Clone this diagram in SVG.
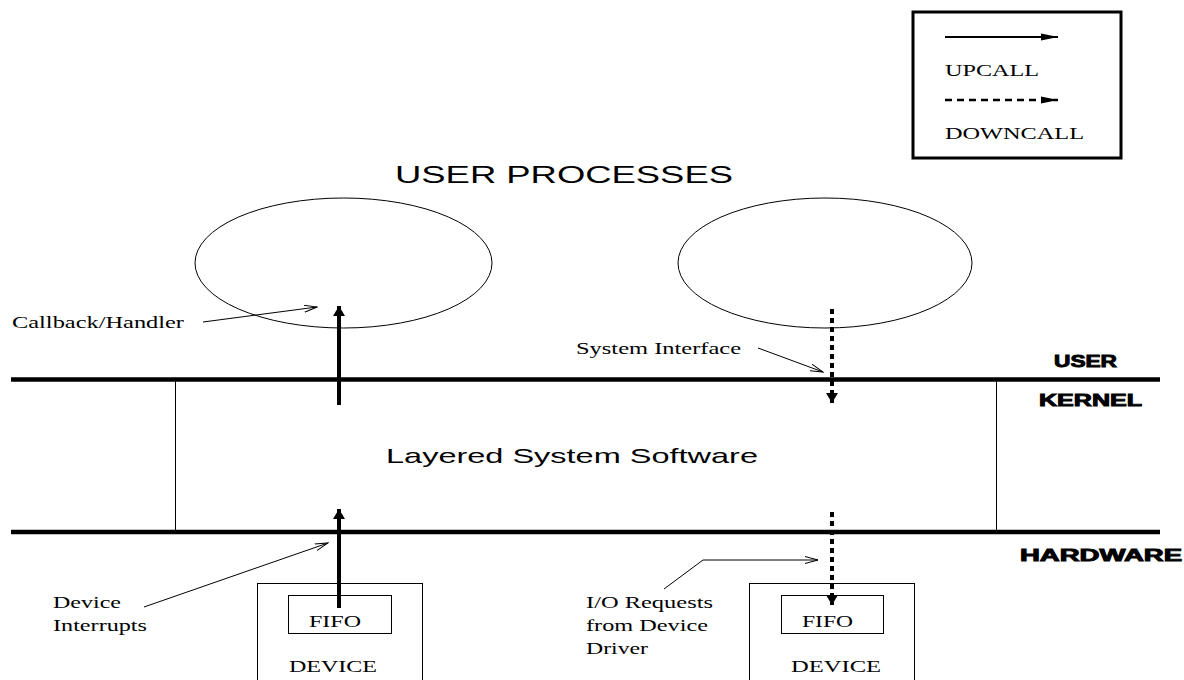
<svg xmlns="http://www.w3.org/2000/svg" width="1184" height="680" viewBox="0 0 1184 680">
  <defs>
    <marker id="head" markerUnits="userSpaceOnUse" markerWidth="12" markerHeight="12" refX="10" refY="6" orient="auto">
      <path d="M0,0 L10,6 L0,12 z" fill="#000"/>
    </marker>
    <marker id="open" markerUnits="userSpaceOnUse" markerWidth="14" markerHeight="8" refX="13" refY="4" orient="auto">
      <path d="M0,0.5 L13,4 L0,7.5" fill="none" stroke="#000" stroke-width="1"/>
    </marker>
    <marker id="legendHead" markerUnits="userSpaceOnUse" markerWidth="18" markerHeight="8" refX="17" refY="4" orient="auto">
      <path d="M0,0.5 L17,4 L0,7.5 z" fill="#000"/>
    </marker>
  </defs>
  <style>
    .serif { font-family: "Liberation Serif", "Times New Roman", serif; font-size: 17px; fill: #000; }
    .small { font-size: 16px; }
    .sans { font-family: "Liberation Sans", Arial, sans-serif; fill: #000; }
    .layer { font-family: "Liberation Sans", Arial, sans-serif; font-weight: 900; font-size: 16px; fill: #000; stroke: #000; stroke-width: 0.9; }
    .thin { fill: none; stroke: #000; stroke-width: 1; }
    .bar { stroke: #000; stroke-width: 4.5; }
    .up { stroke: #000; stroke-width: 4; fill: none; marker-end: url(#head); }
    .down { stroke: #000; stroke-width: 4; stroke-dasharray: 5 4; fill: none; marker-end: url(#head); }
    .pointer { fill: none; stroke: #000; stroke-width: 1; marker-end: url(#open); }
  </style>

  <rect width="1184" height="680" fill="#fff"/>

  <!-- legend -->
  <g id="legend">
    <rect x="913" y="12" width="208" height="146" fill="none" stroke="#000" stroke-width="3"/>
    <line x1="945" y1="37" x2="1058" y2="37" stroke="#000" stroke-width="2" marker-end="url(#legendHead)"/>
    <text class="serif small" x="945" y="76" textLength="94" lengthAdjust="spacingAndGlyphs">UPCALL</text>
    <line x1="945" y1="100" x2="1058" y2="100" stroke="#000" stroke-width="2.5" stroke-dasharray="7 5" marker-end="url(#legendHead)"/>
    <text class="serif small" x="945" y="139" textLength="139" lengthAdjust="spacingAndGlyphs">DOWNCALL</text>
  </g>

  <text id="title" class="sans" x="395" y="183" font-size="24" textLength="338" lengthAdjust="spacingAndGlyphs">USER PROCESSES</text>

  <!-- user processes -->
  <g id="process-left">
    <ellipse class="thin" cx="343.5" cy="263" rx="148.5" ry="65"/>
  </g>
  <g id="process-right">
    <ellipse class="thin" cx="825" cy="263" rx="147" ry="65"/>
  </g>

  <!-- protection boundaries -->
  <g id="boundaries">
    <line class="bar" x1="11" y1="379.5" x2="1160" y2="379.5"/>
    <line class="bar" x1="11" y1="532" x2="1160" y2="532"/>
    <text class="layer" x="1054" y="367" textLength="63" lengthAdjust="spacingAndGlyphs">USER</text>
    <text class="layer" x="1039" y="406" textLength="103" lengthAdjust="spacingAndGlyphs">KERNEL</text>
    <text class="layer" x="1020" y="561" textLength="162" lengthAdjust="spacingAndGlyphs">HARDWARE</text>
  </g>

  <!-- kernel software -->
  <g id="system-software">
    <line class="thin" x1="175.5" y1="380" x2="175.5" y2="532"/>
    <line class="thin" x1="996.5" y1="380" x2="996.5" y2="532"/>
    <text class="sans" x="386" y="463" font-size="21" textLength="372" lengthAdjust="spacingAndGlyphs">Layered System Software</text>
  </g>

  <!-- devices -->
  <g id="device-left">
    <rect class="thin" x="257.5" y="583.5" width="165" height="110"/>
    <rect class="thin" x="288.5" y="595.5" width="103" height="38"/>
    <text class="serif small" x="309" y="627" textLength="52" lengthAdjust="spacingAndGlyphs">FIFO</text>
    <text class="serif small" x="289" y="672" textLength="88" lengthAdjust="spacingAndGlyphs">DEVICE</text>
  </g>
  <g id="device-right">
    <rect class="thin" x="749.5" y="583.5" width="165" height="110"/>
    <rect class="thin" x="781.5" y="595.5" width="102" height="38"/>
    <text class="serif small" x="802" y="627" textLength="51" lengthAdjust="spacingAndGlyphs">FIFO</text>
    <text class="serif small" x="791" y="672" textLength="90" lengthAdjust="spacingAndGlyphs">DEVICE</text>
  </g>

  <!-- labels -->
  <g id="labels">
    <text class="serif" x="12" y="328" textLength="172" lengthAdjust="spacingAndGlyphs">Callback/Handler</text>
    <text class="serif" x="576" y="354" textLength="165" lengthAdjust="spacingAndGlyphs">System Interface</text>
    <text class="serif" x="53" y="608" textLength="68" lengthAdjust="spacingAndGlyphs">Device</text>
    <text class="serif" x="53" y="631" textLength="94" lengthAdjust="spacingAndGlyphs">Interrupts</text>
    <text class="serif" x="586" y="608" textLength="127" lengthAdjust="spacingAndGlyphs">I/O Requests</text>
    <text class="serif" x="586" y="631" textLength="122" lengthAdjust="spacingAndGlyphs">from Device</text>
    <text class="serif" x="586" y="654" textLength="62" lengthAdjust="spacingAndGlyphs">Driver</text>
  </g>

  <!-- calls and pointers -->
  <g id="connectors">
    <line class="up" x1="339" y1="405" x2="339" y2="306"/>
    <line class="up" x1="339" y1="608" x2="339" y2="509"/>
    <line class="down" x1="832" y1="309" x2="832" y2="403"/>
    <line class="down" x1="832" y1="512" x2="832" y2="605"/>
    <line class="pointer" x1="203" y1="322" x2="317" y2="307"/>
    <line class="pointer" x1="758" y1="348" x2="823" y2="372"/>
    <line class="pointer" x1="144" y1="607" x2="328" y2="543"/>
    <polyline class="pointer" points="664,589 703,560 818,560"/>
  </g>
</svg>
